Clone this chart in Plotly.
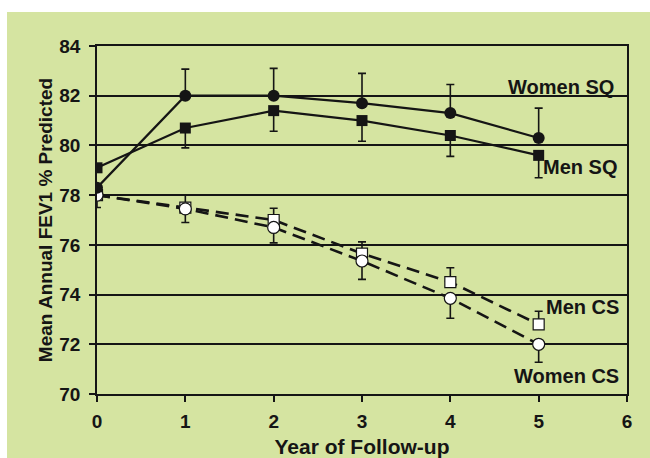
import plotly.graph_objects as go

years = [0, 1, 2, 3, 4, 5]

women_sq = [78.3, 82.0, 82.0, 81.7, 81.3, 80.3]
women_sq_err_up = [0.0, 1.07, 1.1, 1.2, 1.15, 1.2]

men_sq = [79.1, 80.7, 81.4, 81.0, 80.4, 79.6]
men_sq_err_down = [0.0, 0.8, 0.83, 0.83, 0.84, 0.9]

men_cs = [78.0, 77.5, 77.0, 75.65, 74.5, 72.8]
men_cs_err_up = [0.0, 0.5, 0.47, 0.47, 0.58, 0.53]

women_cs = [78.0, 77.45, 76.7, 75.35, 73.85, 72.0]
women_cs_err_down = [0.5, 0.55, 0.62, 0.74, 0.8, 0.72]

labels = ["Women SQ", "Men SQ", "Men CS", "Women CS"]
label_x = [5.87, 5.91, 5.93, 5.93]
label_y = [82.35, 79.13, 73.5, 70.73]

x_ticks = [0, 1, 2, 3, 4, 5, 6]
y_ticks = [70, 72, 74, 76, 78, 80, 82, 84]

BG = "#d5e4a1"
INK = "#151515"
FONT = "Liberation Sans, Arial, sans-serif"

fig = go.Figure()

def err(up=None, down=None):
    n = len(years)
    return dict(type="data", symmetric=False,
                array=up if up is not None else [0] * n,
                arrayminus=down if down is not None else [0] * n,
                color=INK, thickness=1.6, width=4)

fig.add_trace(go.Scatter(x=years, y=men_cs, mode="lines+markers",
                         line=dict(color=INK, width=2.6, dash="13px,7px"),
                         marker=dict(symbol="square", size=11, color="white",
                                     line=dict(color=INK, width=1.2)),
                         error_y=err(up=men_cs_err_up), name="Men CS"))
fig.add_trace(go.Scatter(x=years, y=women_cs, mode="lines+markers",
                         line=dict(color=INK, width=2.6, dash="13px,7px"),
                         marker=dict(symbol="circle", size=12, color="white",
                                     line=dict(color=INK, width=1.2)),
                         error_y=err(down=women_cs_err_down), name="Women CS"))
fig.add_trace(go.Scatter(x=years, y=men_sq, mode="lines+markers",
                         line=dict(color=INK, width=2.2),
                         marker=dict(symbol="square", size=11, color=INK),
                         error_y=err(down=men_sq_err_down), name="Men SQ"))
fig.add_trace(go.Scatter(x=years, y=women_sq, mode="lines+markers",
                         line=dict(color=INK, width=2.2),
                         marker=dict(symbol="circle", size=12, color=INK),
                         error_y=err(up=women_sq_err_up), name="Women SQ"))

for t, lx, ly in zip(labels, label_x, label_y):
    fig.add_annotation(x=lx, y=ly, text=t, showarrow=False, xanchor="right",
                       yanchor="middle",
                       font=dict(family=FONT, size=20, color=INK, weight="bold"))

# green panel behind the chart (leaves a white strip at the top and left)
fig.add_shape(type="rect", xref="paper", yref="paper",
              x0=(7 - 97) / 530, x1=(660 - 97) / 530,
              y0=(394 - 470) / 348, y1=(394 - 12) / 348,
              fillcolor=BG, line=dict(width=0), layer="below")

fig.update_layout(
    width=650, height=458,
    margin=dict(l=97, r=23, t=46, b=64),
    paper_bgcolor="white", plot_bgcolor=BG,
    showlegend=False,
    font=dict(family=FONT, color=INK),
    xaxis=dict(range=[0, 6], tickvals=x_ticks, showgrid=False, zeroline=False,
               automargin=False,
               showline=True, mirror=True, linecolor=INK, linewidth=1.6,
               ticks="outside", ticklen=6, tickwidth=1.6, tickcolor=INK,
               ticklabelstandoff=3,
               tickfont=dict(family=FONT, size=19, color=INK, weight="bold"),
               title=dict(text="Year of Follow-up", standoff=18,
                          font=dict(family=FONT, size=21, color=INK, weight="bold"))),
    yaxis=dict(range=[70, 84], tickvals=y_ticks, showgrid=True, gridcolor=INK,
               gridwidth=1.6, zeroline=False, automargin=False,
               showline=True, mirror=True, linecolor=INK, linewidth=1.6,
               ticks="outside", ticklen=6, tickwidth=1.6, tickcolor=INK,
               ticklabelstandoff=5,
               tickfont=dict(family=FONT, size=19, color=INK, weight="bold"),
               title=dict(text="Mean Annual FEV1 % Predicted", standoff=2,
                          font=dict(family=FONT, size=19, color=INK, weight="bold"))),
)

fig.write_html("out.html")
